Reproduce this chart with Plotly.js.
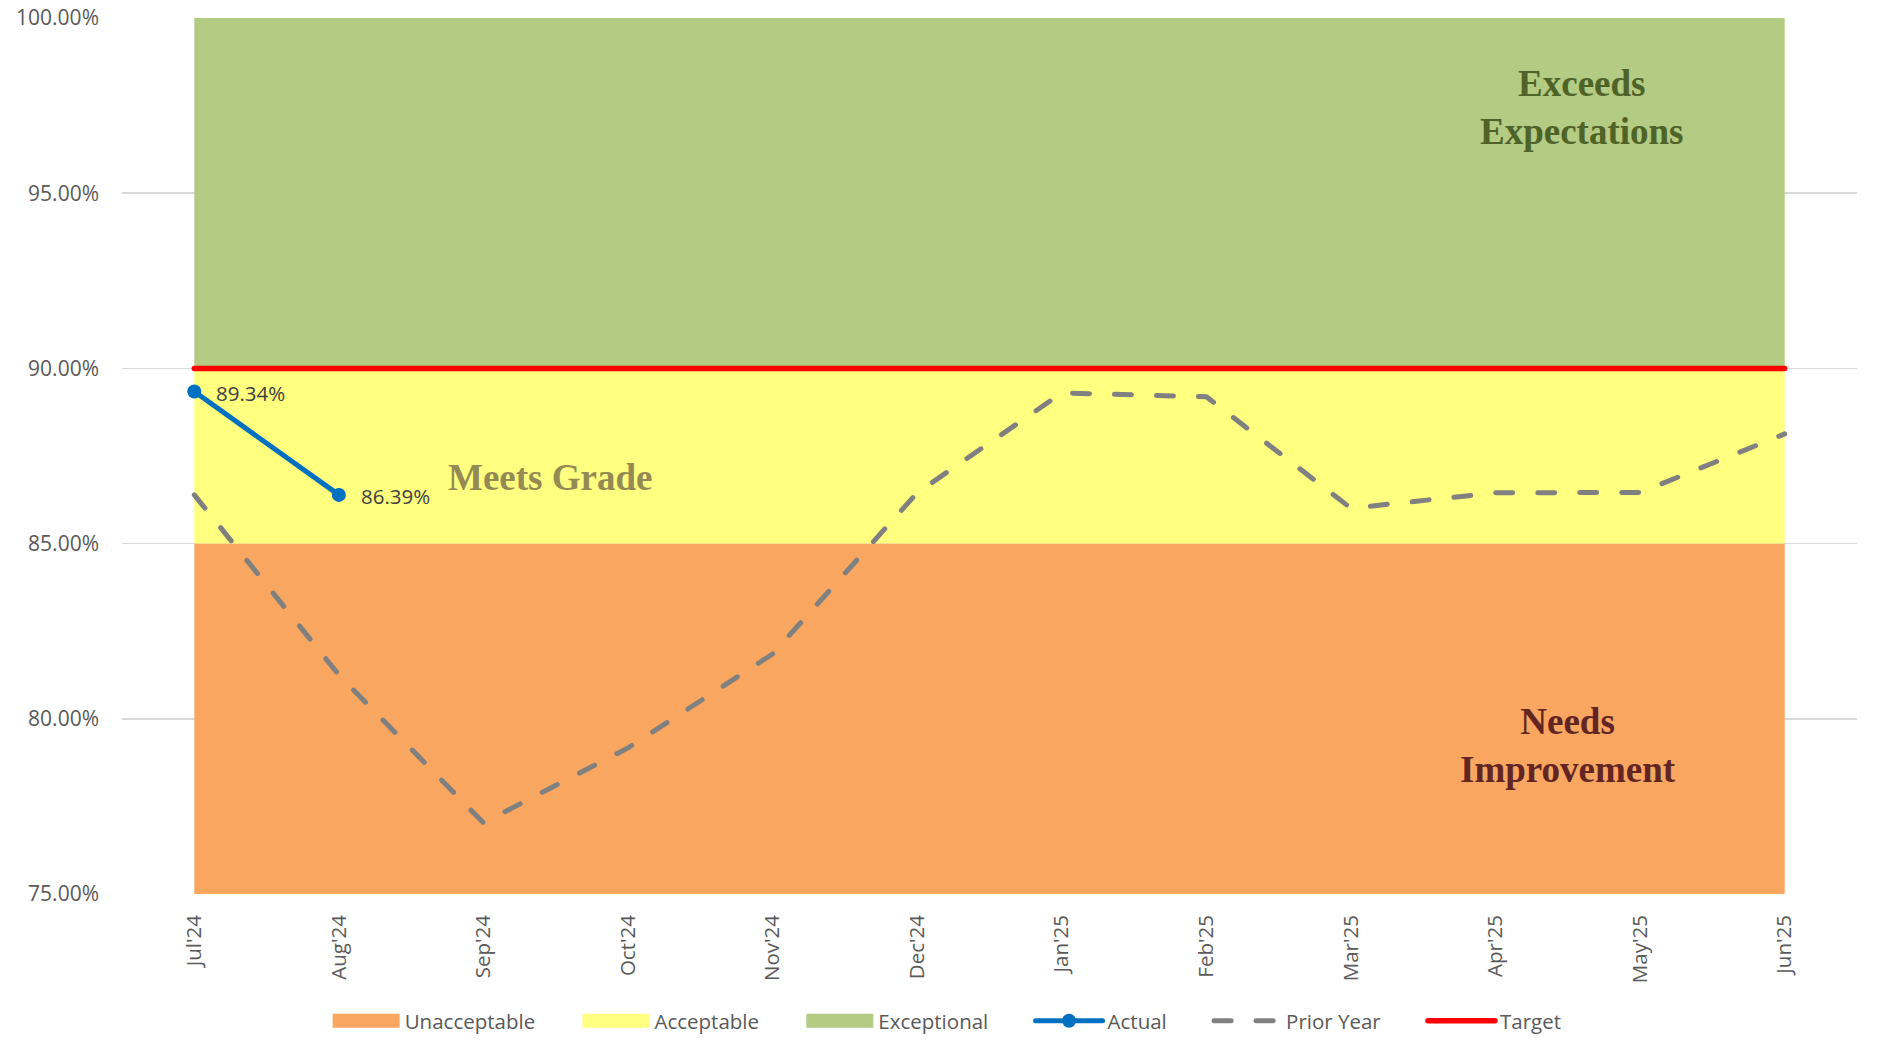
<!DOCTYPE html>
<html><head><meta charset="utf-8">
<script src="https://cdn.plot.ly/plotly-3.0.1.min.js"></script>
<style>
html,body{margin:0;padding:0;background:#fff;}
#chart{width:1883px;height:1045px;}
.js-line{stroke-linecap:round;stroke-linejoin:round;}
</style></head><body><div id="chart"></div>
<script>
const months = ["Jul'24","Aug'24","Sep'24","Oct'24","Nov'24","Dec'24","Jan'25","Feb'25","Mar'25","Apr'25","May'25","Jun'25"];
const unacceptable = [85,85,85,85,85,85,85,85,85,85,85,85];
const acceptable = [5,5,5,5,5,5,5,5,5,5,5,5];
const exceptional = [10,10,10,10,10,10,10,10,10,10,10,10];
const actual = [89.34, 86.39];
const priorYear = [86.39, 81.25, 77.03, 79.17, 81.85, 86.45, 89.30, 89.19, 86.01, 86.45, 86.46, 88.13];
const target = [90,90,90,90,90,90,90,90,90,90,90,90];
const yTicks = [75, 80, 85, 90, 95, 100];
const seriesNames = ["Unacceptable", "Acceptable", "Exceptional", "Actual", "Prior Year", "Target"];

const bandLabels = [
  {text: "Exceeds<br>Expectations", x: 9.6, y: 97.45, color: "#4F6228"},
  {text: "Meets Grade", x: 2.46, y: 86.9, color: "#948A54"},
  {text: "Needs<br>Improvement", x: 9.5, y: 79.25, color: "#632523"}
];

const tickFont = {family: "Open Sans", size: 20.5, color: "#595959"};
const pad = "\u00A0".repeat(7);
const legendName = (i) => seriesNames[i] + (i < seriesNames.length - 1 ? pad : "");

const traces = [
  {name: legendName(0), x: months, y: unacceptable, type: "scatter", mode: "none",
   stackgroup: "bands", fillcolor: "#F9A660", hoverinfo: "skip"},
  {name: legendName(1), x: months, y: acceptable, type: "scatter", mode: "none",
   stackgroup: "bands", fillcolor: "#FFFF80", hoverinfo: "skip"},
  {name: legendName(2), x: months, y: exceptional, type: "scatter", mode: "none",
   stackgroup: "bands", fillcolor: "#B3CB82", hoverinfo: "skip"},
  {name: legendName(3), x: months.slice(0, actual.length), y: actual, type: "scatter", mode: "lines+markers",
   line: {color: "#0070C0", width: 5}, marker: {color: "#0070C0", size: 14}},
  {name: legendName(4), x: months, y: priorYear, type: "scatter", mode: "lines",
   line: {color: "#808080", width: 5, dash: "17px,25px"}},
  {name: legendName(5), x: months, y: target, type: "scatter", mode: "lines",
   line: {color: "#FF0000", width: 5.5}}
];

const annotations = bandLabels.map(b => ({
  text: b.text, x: b.x, y: b.y, xref: "x", yref: "y", showarrow: false,
  xanchor: "center", yanchor: "middle",
  font: {family: "Liberation Serif", size: 37, color: b.color, weight: "bold"}
})).concat(actual.map((v, i) => ({
  text: v.toFixed(2) + "%", x: months[i], y: v, xref: "x", yref: "y", showarrow: false,
  xanchor: "left", yanchor: "middle", xshift: 20, yshift: -1,
  font: {family: "Open Sans", size: 20.5, color: "#404040"}
})));

const layout = {
  width: 1883, height: 1045,
  margin: {l: 122, r: 26, t: 18, b: 151},
  paper_bgcolor: "#ffffff", plot_bgcolor: "#ffffff",
  showlegend: true,
  legend: {orientation: "h", xref: "container", yref: "container", x: 0.503, y: 0.023,
           xanchor: "center", yanchor: "middle", traceorder: "normal",
           font: tickFont, itemwidth: 67},
  xaxis: {type: "category", range: [-0.5, 11.5], showgrid: false, zeroline: false, showline: false,
          tickangle: -90, tickfont: tickFont, ticklabelstandoff: 16, fixedrange: true},
  yaxis: {range: [75, 100], tickvals: yTicks, ticktext: yTicks.map(v => v.toFixed(2) + "%"),
          showgrid: true, gridcolor: "#D9D9D9", gridwidth: 1.5, zeroline: false, showline: false,
          tickfont: {family: "Open Sans", size: 21, color: "#595959"}, ticklabelstandoff: 22, fixedrange: true},
  annotations: annotations
};

Plotly.newPlot("chart", traces, layout, {displayModeBar: false, staticPlot: true}).then(() => {
  document.querySelectorAll("#chart .legend .legendfill path").forEach(p => {
    const b = p.getBBox();
    if (b.width > 0) p.setAttribute("d", "M" + b.x + ",-7h" + b.width + "v14h-" + b.width + "z");
  });
});
</script></body></html>
